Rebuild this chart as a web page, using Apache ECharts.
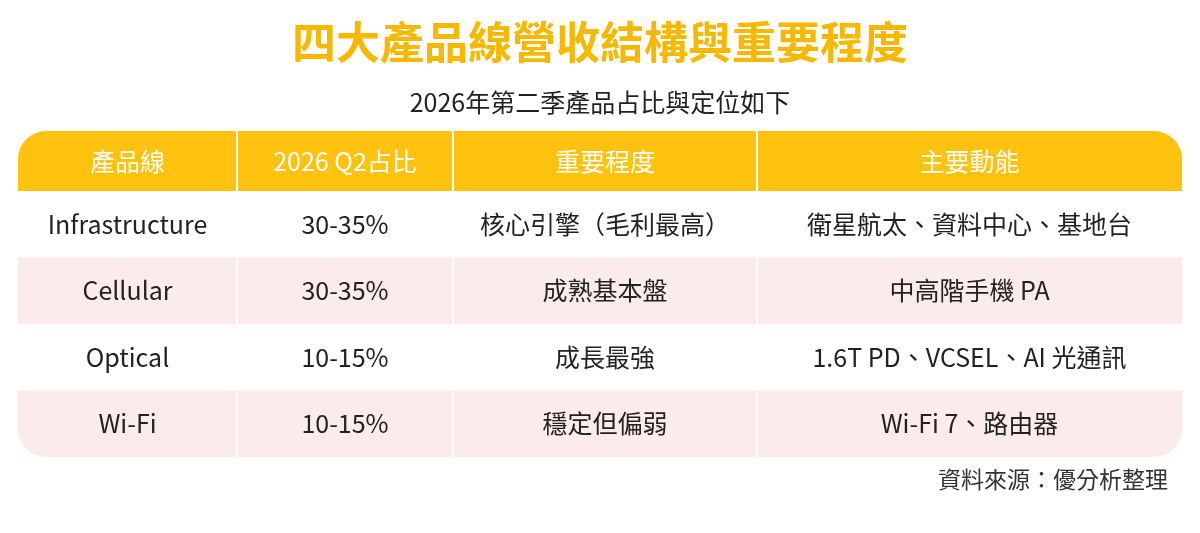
<!DOCTYPE html>
<html><head><meta charset="utf-8">
<script src="https://cdn.jsdelivr.net/npm/echarts@6/dist/echarts.min.js"></script>
<style>html,body{margin:0;padding:0;background:#fff}#c{width:1200px;height:533px}</style>
</head><body><div id="c"></div>
<script>
var title = '四大產品線營收結構與重要程度';
var subtitle = '2026年第二季產品占比與定位如下';
var headers = ['產品線', '2026 Q2占比', '重要程度', '主要動能'];
var products = ['Infrastructure', 'Cellular', 'Optical', 'Wi-Fi'];
var shares = ['30-35%', '30-35%', '10-15%', '10-15%'];
var importance = ['核心引擎（毛利最高）', '成熟基本盤', '成長最強', '穩定但偏弱'];
var drivers = ['衛星航太、資料中心、基地台', '中高階手機 PA', '1.6T PD、VCSEL、AI 光通訊', 'Wi-Fi 7、路由器'];
var source = '資料來源：優分析整理';

var font = '"Noto Sans CJK TC", "Noto Sans", sans-serif';
var colX = [18, 237, 453, 757, 1182];
var headTop = 131, headH = 60, rowH = 66.5;
var gold = '#FFC20E', pink = '#FBEBEA';

var g = [];
g.push({type: 'text', left: 'center', top: 20, style: {text: title, font: 'bold 44px ' + font, fill: '#F6B800'}});
g.push({type: 'text', left: 'center', top: 90, style: {text: subtitle, font: '25px ' + font, fill: '#222'}});
g.push({type: 'rect', shape: {x: colX[0], y: headTop, width: colX[4] - colX[0], height: headH, r: [28, 28, 0, 0]}, style: {fill: gold}});
var cols = [products, shares, importance, drivers];
products.forEach(function (p, i) {
  var y = headTop + headH + i * rowH;
  if (i % 2 === 1) {
    var last = i === products.length - 1;
    g.push({type: 'rect', shape: {x: colX[0], y: y, width: colX[4] - colX[0], height: rowH, r: last ? [0, 0, 28, 28] : 0}, style: {fill: pink}});
  }
});
for (var k = 1; k < 4; k++) {
  g.push({type: 'line', shape: {x1: colX[k], y1: headTop, x2: colX[k], y2: headTop + headH + rowH * products.length}, style: {stroke: '#fff', lineWidth: 2}});
}
headers.forEach(function (h, c) {
  g.push({type: 'text', x: (colX[c] + colX[c + 1]) / 2, y: headTop + headH / 2,
    style: {text: h, font: '25px ' + font, fill: '#fff', align: 'center', verticalAlign: 'middle'}});
});
cols.forEach(function (arr, c) {
  arr.forEach(function (t, i) {
    g.push({type: 'text', x: (colX[c] + colX[c + 1]) / 2, y: headTop + headH + i * rowH + rowH / 2,
      style: {text: t, font: '25px ' + font, fill: '#222', align: 'center', verticalAlign: 'middle'}});
  });
});
g.push({type: 'text', right: 32, top: 468, style: {text: source, font: '23px ' + font, fill: '#333'}});

var chart = echarts.init(document.getElementById('c'));
chart.setOption({backgroundColor: '#fff', graphic: g});
</script></body></html>
